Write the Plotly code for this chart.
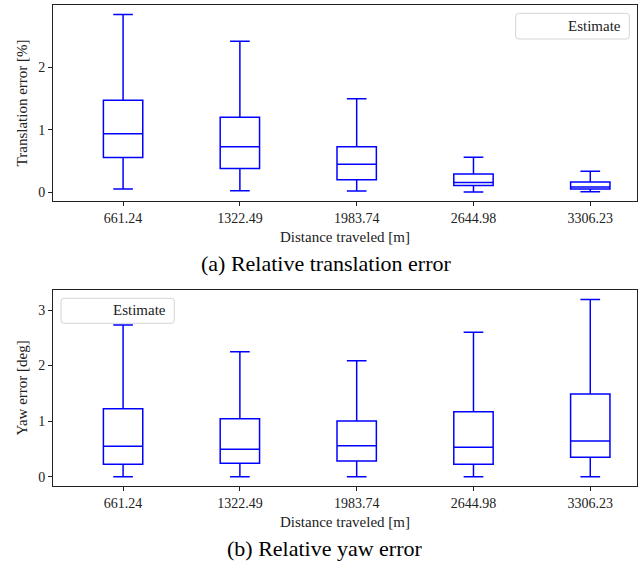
import plotly.graph_objects as go
from plotly.subplots import make_subplots

categories = ["661.24", "1322.49", "1983.74", "2644.98", "3306.23"]

# Relative translation error [%]
trans_low = [0.053, 0.026, 0.021, 0.005, 0.010]
trans_q1 = [0.56, 0.384, 0.202, 0.112, 0.053]
trans_med = [0.938, 0.73, 0.453, 0.16, 0.085]
trans_q3 = [1.477, 1.205, 0.73, 0.293, 0.165]
trans_high = [2.85, 2.42, 1.498, 0.565, 0.341]

# Relative yaw error [deg]
yaw_low = [0.0, 0.0, 0.0, 0.0, 0.0]
yaw_q1 = [0.223, 0.241, 0.282, 0.223, 0.349]
yaw_med = [0.547, 0.493, 0.558, 0.529, 0.642]
yaw_q3 = [1.223, 1.043, 1.002, 1.169, 1.487]
yaw_high = [2.73, 2.25, 2.087, 2.60, 3.19]

FONT = "Liberation Serif"
BLUE = "#0000ff"
TXT = "#222"

W, H = 644, 564
ML, MR = 53, 7
PW = W - ML - MR


def px_x(p):
    return (p - ML) / PW


def px_y(p):
    return 1 - p / H


fig = make_subplots(rows=2, cols=1, vertical_spacing=0.1)


def add_box(row, low, q1, med, q3, high):
    fig.add_trace(go.Box(
        x=categories, q1=q1, median=med, q3=q3,
        lowerfence=low, upperfence=high,
        boxpoints=False, width=0.337, whiskerwidth=0.5,
        line=dict(color=BLUE, width=1.5),
        fillcolor="rgba(0,0,0,0)", showlegend=False,
        name="Estimate", hoverinfo="skip",
    ), row=row, col=1)


add_box(1, trans_low, trans_q1, trans_med, trans_q3, trans_high)
add_box(2, yaw_low, yaw_q1, yaw_med, yaw_q3, yaw_high)

axis_common = dict(
    showline=True, linecolor="#222", linewidth=1, mirror=True,
    ticks="outside", ticklen=4, tickwidth=1, tickcolor="#222",
    showgrid=False, zeroline=False, automargin=False,
    tickfont=dict(family=FONT, size=14, color=TXT),
)
title_font = dict(family=FONT, size=15, color=TXT)

fig.update_xaxes(**axis_common, type="category", range=[-0.6, 4.4])
fig.update_xaxes(title=dict(text="Distance traveled [m]", font=title_font, standoff=6))

fig.update_yaxes(**axis_common)
fig.update_yaxes(range=[-0.134, 3.0], tickvals=[0, 1, 2], domain=[0.644, 0.991],
                 title=dict(text="Translation error [%]", font=title_font, standoff=6),
                 row=1, col=1)
fig.update_yaxes(range=[-0.162, 3.36], tickvals=[0, 1, 2, 3], domain=[0.1388, 0.4858],
                 title=dict(text="Yaw error [deg]", font=title_font, standoff=6),
                 row=2, col=1)


def rounded_rect(x0, y0, x1, y1, r):
    # pixel coords -> paper path with rounded corners
    rx = r / PW
    ry = r / H
    a, b, c, d = px_x(x0), px_y(y0), px_x(x1), px_y(y1)  # b top, d bottom (paper)
    return (f"M {a+rx},{b} L {c-rx},{b} Q {c},{b} {c},{b-ry} "
            f"L {c},{d+ry} Q {c},{d} {c-rx},{d} L {a+rx},{d} "
            f"Q {a},{d} {a},{d+ry} L {a},{b-ry} Q {a},{b} {a+rx},{b} Z")


legends = [
    # (left, top, right, bottom, text right edge, text center y) in pixels
    (515.7, 13.3, 629.3, 39.0, 623.0, 25.5),
    (61.0, 298.3, 174.3, 323.3, 168.3, 310.5),
]
shapes = []
annotations = []
for (l, t, r, b, tr, ty) in legends:
    shapes.append(dict(type="path", xref="paper", yref="paper",
                       path=rounded_rect(l, t, r, b, 3),
                       line=dict(color="#d4d4d4", width=1), fillcolor="white", layer="above"))
    annotations.append(dict(text="Estimate", x=px_x(tr), y=px_y(ty), xref="paper", yref="paper",
                            showarrow=False, xanchor="right", yanchor="middle",
                            font=dict(family=FONT, size=15, color=TXT)))

annotations += [
    dict(text="(a) Relative translation error", x=px_x(326), y=px_y(263), xref="paper", yref="paper",
         showarrow=False, font=dict(family=FONT, size=22, color="black"), xanchor="center", yanchor="middle"),
    dict(text="(b) Relative yaw error", x=px_x(325), y=px_y(548), xref="paper", yref="paper",
         showarrow=False, font=dict(family=FONT, size=22, color="black"), xanchor="center", yanchor="middle"),
]

fig.update_layout(
    width=W, height=H,
    margin=dict(l=ML, r=MR, t=0, b=0),
    paper_bgcolor="white", plot_bgcolor="white",
    showlegend=False,
    shapes=shapes,
    annotations=annotations,
)

fig.write_html("out.html")
